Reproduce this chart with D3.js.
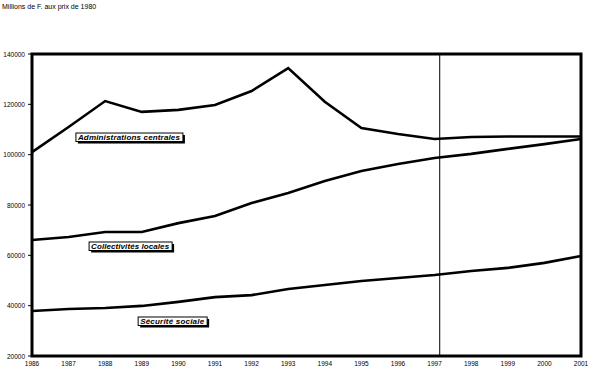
<!DOCTYPE html>
<html><head><meta charset="utf-8">
<script src="https://cdn.jsdelivr.net/npm/d3@7"></script>
<style>body{margin:0;background:#fff}svg{display:block}text{font-family:"Liberation Sans",Arial,sans-serif}</style>
</head><body>
<svg id="c" width="595" height="369"></svg>
<script>
const years = [1986,1987,1988,1989,1990,1991,1992,1993,1994,1995,1996,1997,1998,1999,2000,2001];
const adminCentrales = [101000,111000,121300,117000,117800,119700,125300,134400,121000,110600,108200,106200,107000,107200,107200,107200];
const collectivites = [66100,67300,69300,69300,72800,75600,80800,84800,89500,93500,96300,98700,100300,102300,104200,106200];
const securite = [37900,38700,39100,39900,41500,43400,44200,46600,48200,49800,51000,52200,53800,55000,57000,59700];
const yTicks = [20000,40000,60000,80000,100000,120000,140000];
const seriesLabels = [
  {name:"Administrations centrales", year:1987.2, value:108600, w:107},
  {name:"Collectivités locales", year:1987.56, value:65300, w:83},
  {name:"Sécurité sociale", year:1988.9, value:35500, w:69}
];
const title = "Millions de F. aux prix de 1980";
const markerYear = 1997.14;

const svg = d3.select("#c");
const x = d3.scaleLinear().domain([1986,2001]).range([32,581]);
const y = d3.scaleLinear().domain([20000,140000]).range([356,54]);

svg.append("text").attr("x",2).attr("y",9).attr("font-size",7).text(title);

svg.selectAll(".yl").data(yTicks).enter().append("text")
  .attr("x",25).attr("y",d=>y(d)+2.5).attr("text-anchor","end").attr("font-size",6.5).text(d=>d);
svg.selectAll(".yt").data(yTicks).enter().append("line")
  .attr("x1",28).attr("x2",32).attr("y1",d=>y(d)).attr("y2",d=>y(d)).attr("stroke","#000").attr("stroke-width",1);
svg.selectAll(".xl").data(years).enter().append("text")
  .attr("x",d=>x(d)).attr("y",366).attr("text-anchor","middle").attr("font-size",6.5).text(d=>d);

svg.append("rect").attr("x",x(1986)).attr("y",y(140000)).attr("width",x(2001)-x(1986)).attr("height",y(20000)-y(140000))
  .attr("fill","none").attr("stroke","#000").attr("stroke-width",3);

svg.append("line").attr("x1",x(markerYear)).attr("x2",x(markerYear)).attr("y1",y(140000)).attr("y2",y(20000))
  .attr("stroke","#000").attr("stroke-width",1);

const line = d3.line().x((d,i)=>x(years[i])).y(d=>y(d));
[adminCentrales,collectivites,securite].forEach(s=>{
  svg.append("path").datum(s).attr("d",line).attr("fill","none").attr("stroke","#000").attr("stroke-width",2.6).attr("stroke-linejoin","miter");
});

seriesLabels.forEach(l=>{
  const bx = x(l.year), by = y(l.value), h = 8.5;
  svg.append("rect").attr("x",bx+2).attr("y",by+2).attr("width",l.w).attr("height",h).attr("fill","#000");
  svg.append("rect").attr("x",bx).attr("y",by).attr("width",l.w).attr("height",h).attr("fill","#fff").attr("stroke","#000").attr("stroke-width",1);
  svg.append("text").attr("x",bx+2).attr("y",by+7).attr("font-size",8).attr("font-style","italic").attr("font-weight","bold")
    .attr("textLength",l.w-5).attr("lengthAdjust","spacing").text(l.name);
});
</script>
</body></html>
